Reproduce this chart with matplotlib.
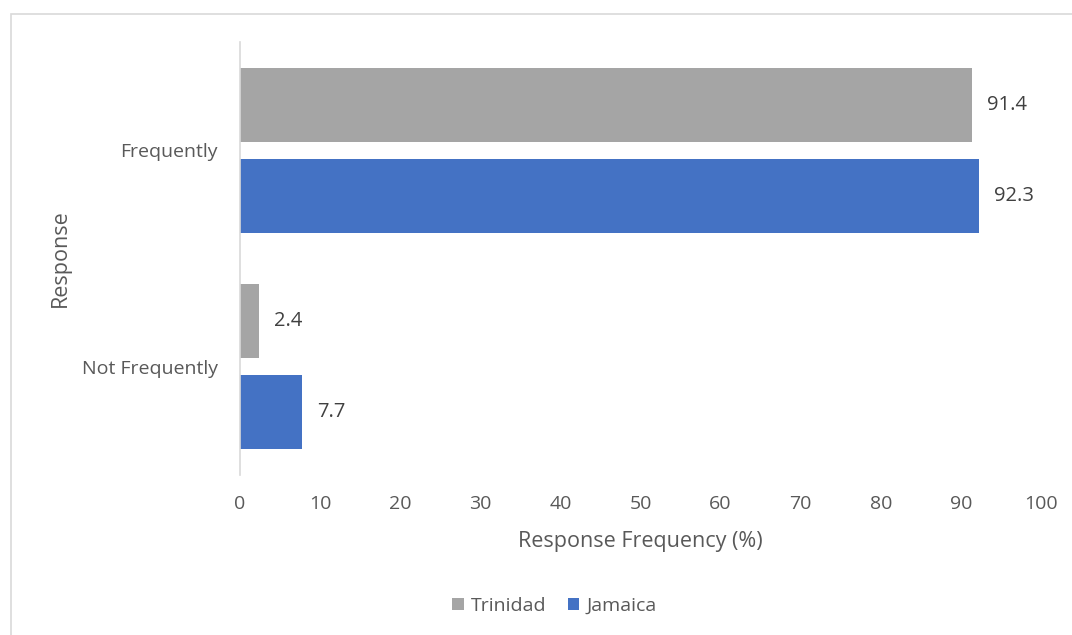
import matplotlib.pyplot as plt
from matplotlib.patches import Rectangle
import numpy as np

plt.rcParams['font.family'] = ['Open Sans', 'DejaVu Sans']

categories = ['Not Frequently', 'Frequently']
trinidad = [2.4, 91.4]
jamaica = [7.7, 92.3]
series_names = ['Trinidad', 'Jamaica']
colors = ['#A5A5A5', '#4472C4']
text_color = '#595959'

fig = plt.figure(figsize=(10.72, 6.35), dpi=100)
ax = fig.add_axes([240 / 1072, 1 - 475 / 635, 801 / 1072, 433 / 635])

# light chart-area border like the Excel export
fig.patches.append(Rectangle((11 / 1072, -0.1), 1.2, 1 - 14 / 635 + 0.1,
                             transform=fig.transFigure, fill=False,
                             edgecolor='#D9D9D9', linewidth=1.2))

y = np.arange(len(categories))
h = 0.34
off = 0.21
b1 = ax.barh(y + off, trinidad, height=h, color=colors[0], label=series_names[0])
b2 = ax.barh(y - off, jamaica, height=h, color=colors[1], label=series_names[1])

for bars, vals in [(b1, trinidad), (b2, jamaica)]:
    for bar, v in zip(bars, vals):
        ax.annotate(f'{v}', (bar.get_width(), bar.get_y() + bar.get_height() / 2),
                    xytext=(15, 0), textcoords='offset pixels', va='center',
                    ha='left', fontsize=14.5, color='#404040')

ax.set_xlim(0, 100)
ax.set_ylim(-0.5, 1.5)
ax.set_xticks(range(0, 101, 10))
ax.set_yticks(y)
ax.set_yticklabels(categories)
ax.tick_params(length=0, labelsize=14, colors=text_color)
ax.tick_params(axis='x', pad=14.5)
ax.tick_params(axis='y', pad=16)
for s in ['top', 'right', 'bottom']:
    ax.spines[s].set_visible(False)
ax.spines['left'].set_color('#D9D9D9')
ax.spines['left'].set_linewidth(1.2)

ax.set_xlabel('Response Frequency (%)', fontsize=15.5, color=text_color, va='center')
ax.set_ylabel('Response', fontsize=15.5, color=text_color, va='center')
ax.xaxis.set_label_coords(0.5, (475 - 541) / 433)
ax.yaxis.set_label_coords((60 - 240) / 801, 0.5)

leg = fig.legend(handles=[b1, b2], loc='center', bbox_to_anchor=(0.517, 1 - 606 / 635),
                 ncol=2, frameon=False, fontsize=14, handlelength=0.6, handleheight=0.6,
                 handletextpad=0.35, columnspacing=1.1)
for t in leg.get_texts():
    t.set_color(text_color)

fig.savefig('out.png', dpi=100)
